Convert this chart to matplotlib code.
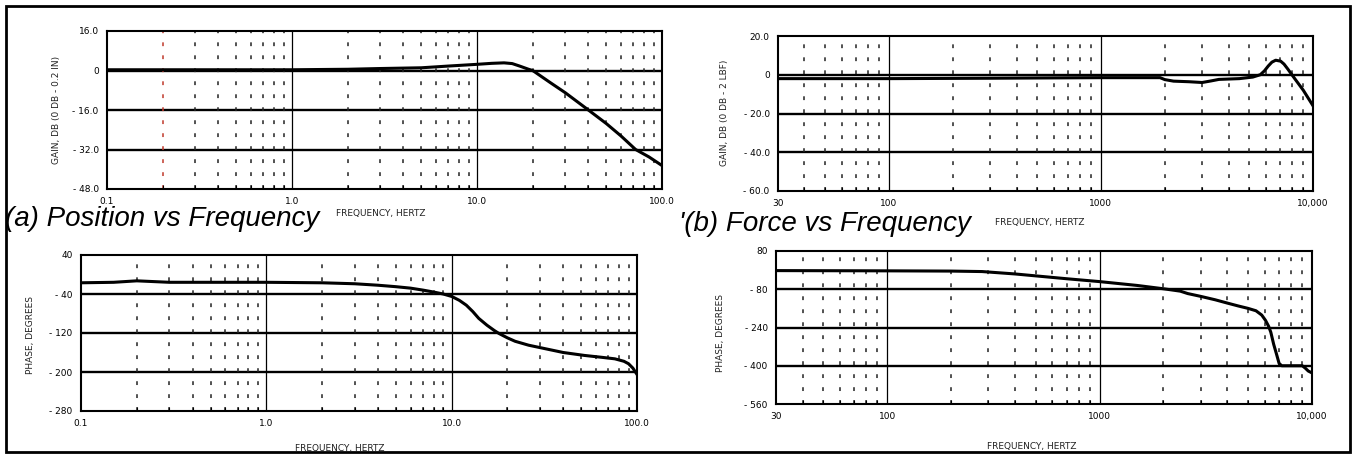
import numpy as np
import matplotlib
matplotlib.use('Agg')
import matplotlib.pyplot as plt
from matplotlib.patches import Rectangle

plt.rcParams['font.family'] = ['Liberation Sans', 'DejaVu Sans']

W, H = 1356, 457

# (a) position: gain and phase
pos_gain_freq = [0.1, 0.5, 1, 2, 3, 5, 7, 10, 12, 14, 15.5, 17, 19, 20, 25, 30, 40, 50, 60,
                 72, 85, 100]
pos_gain_db = [0.3, 0.3, 0.3, 0.5, 0.8, 1.1, 1.8, 2.5, 2.9, 3.1, 2.8, 1.8, 0.5, 0.0, -5.0,
               -9.0, -16.0, -21.5, -26.5, -32.0, -35.0, -38.5]
pos_phase_freq = [0.1, 0.15, 0.2, 0.3, 0.5, 1, 2, 3, 4, 5, 6, 7, 8, 9, 10, 11, 12, 13, 14,
                  15.5, 17, 18, 20, 22, 26, 30, 40, 52, 65, 76, 85, 90, 95, 100]
pos_phase_deg = [-17, -16, -13, -16, -16, -16, -17, -19, -22, -25, -28, -32, -36, -40, -45,
                 -53, -63, -76, -90, -104, -115, -121, -130, -137, -145, -150, -160, -166,
                 -170, -173, -178, -183, -192, -205]

# (b) force: gain and phase
force_gain_freq = [30, 100, 300, 1000, 1900, 2000, 2200, 2600, 3000, 3300, 3600, 4500, 5200,
                   5640, 5900, 6150, 6400, 6670, 7040, 7300, 7600, 8200, 9000, 10000]
force_gain_db = [-2.0, -2.0, -1.8, -1.5, -1.5, -2.5, -3.3, -3.6, -4.0, -3.2, -2.4, -2.0, -1.2,
                 0.0, 2.0, 4.5, 6.5, 7.5, 7.0, 5.5, 3.0, -2.0, -8.0, -16.0]
force_phase_freq = [30, 100, 200, 280, 400, 500, 700, 1000, 1500, 2000, 2400, 2600, 3000,
                    3500, 4000, 4500, 5000, 5450, 5800, 6040, 6250, 6400, 6600, 6800, 7000,
                    7200, 9000, 9300, 9600, 10000]
force_phase_deg = [-2, -3, -4, -6, -16, -24, -36, -48, -64, -78, -88, -98, -110, -124, -138,
                   -150, -160, -170, -188, -210, -235, -260, -310, -350, -390, -400, -400,
                   -410, -422, -430]

pos_xticks = [0.1, 1, 10, 100]
pos_xlabels = ['0.1', '1.0', '10.0', '100.0']
force_xticks = [30, 100, 1000, 10000]
force_xlabels = ['30', '100', '1000', '10,000']

pos_gain_ticks = [16, 0, -16, -32, -48]
pos_gain_labels = ['16.0', '0', '- 16.0', '- 32.0', '- 48.0']
pos_phase_ticks = [40, -40, -120, -200, -280]
pos_phase_labels = ['40', '- 40', '- 120', '- 200', '- 280']
force_gain_ticks = [20, 0, -20, -40, -60]
force_gain_labels = ['20.0', '0', '- 20.0', '- 40.0', '- 60.0']
force_phase_ticks = [80, -80, -240, -400, -560]
force_phase_labels = ['80', '- 80', '- 240', '- 400', '- 560']

SMALL_FONT = 'DejaVu Sans'


def rect(x0, y0, x1, y1):
    return [x0 / W, 1 - y1 / H, (x1 - x0) / W, (y1 - y0) / H]


def pt(x, y):
    return x / W, 1 - y / H


def bode_axes(fig, box, xticks, xlabels, yticks, ylabels, red_minor=None):
    ax = fig.add_axes(rect(*box))
    ax.set_xscale('log')
    lo, hi = xticks[0], xticks[-1]
    ax.set_xlim(lo, hi)
    ax.set_ylim(yticks[-1], yticks[0])

    for y in yticks[1:-1]:
        ax.axhline(y, color='black', lw=1.7, zorder=1)
    for k in range(int(np.floor(np.log10(lo))), int(np.ceil(np.log10(hi)))):
        dec = 10.0 ** k
        if lo < dec < hi:
            ax.axvline(dec, color='black', lw=0.9, zorder=1)
        for m in range(2, 10):
            x = m * dec
            if lo < x < hi:
                c = '#c0392b' if red_minor is not None and np.isclose(x, red_minor) else '#222222'
                ax.axvline(x, color=c, lw=1.1, ls=(0, (2.5, 6)), zorder=1)

    ax.set_xticks(xticks, xlabels)
    ax.set_yticks(yticks, ylabels)
    ax.tick_params(axis='both', which='major', labelsize=6.5, length=0, pad=6)
    ax.tick_params(axis='x', which='minor', direction='in', length=3, width=0.8)
    ax.xaxis.set_minor_formatter(matplotlib.ticker.NullFormatter())
    for lab in ax.get_xticklabels() + ax.get_yticklabels():
        lab.set_family(SMALL_FONT)
    for s in ax.spines.values():
        s.set_linewidth(1.5)
    return ax


fig = plt.figure(figsize=(W / 100, H / 100), dpi=100)

ax1 = bode_axes(fig, (107, 31, 662, 189), pos_xticks, pos_xlabels,
                pos_gain_ticks, pos_gain_labels, red_minor=0.2)
ax1.plot(pos_gain_freq, pos_gain_db, color='black', lw=2.2, zorder=3)

ax2 = bode_axes(fig, (778, 36, 1313, 191), force_xticks, force_xlabels,
                force_gain_ticks, force_gain_labels)
ax2.plot(force_gain_freq, force_gain_db, color='black', lw=2.2, zorder=3)

ax3 = bode_axes(fig, (81, 255, 637, 411), pos_xticks, pos_xlabels,
                pos_phase_ticks, pos_phase_labels)
ax3.plot(pos_phase_freq, pos_phase_deg, color='black', lw=2.2, zorder=3)

ax4 = bode_axes(fig, (776, 251, 1312, 404), force_xticks, force_xlabels,
                force_phase_ticks, force_phase_labels)
ax4.plot(force_phase_freq, force_phase_deg, color='black', lw=2.2, zorder=3)

# axis titles
small = dict(fontsize=6.5, family=SMALL_FONT, color='#222222')
fig.text(*pt(56, 110), 'GAIN, DB (0 DB - 0.2 IN)', rotation=90, ha='center', va='center', **small)
fig.text(*pt(724, 113), 'GAIN, DB (0 DB - 2 LBF)', rotation=90, ha='center', va='center', **small)
fig.text(*pt(30, 335), 'PHASE, DEGREES', rotation=90, ha='center', va='center', **small)
fig.text(*pt(720, 333), 'PHASE, DEGREES', rotation=90, ha='center', va='center', **small)
fig.text(*pt(381, 213), 'FREQUENCY, HERTZ', ha='center', va='center', **small)
fig.text(*pt(1040, 222), 'FREQUENCY, HERTZ', ha='center', va='center', **small)
fig.text(*pt(340, 449), 'FREQUENCY, HERTZ', ha='center', va='center', **small)
fig.text(*pt(1032, 446), 'FREQUENCY, HERTZ', ha='center', va='center', **small)

# panel captions
fig.text(*pt(5, 219), '(a) Position vs Frequency', ha='left', va='center',
         fontsize=20, style='italic')
fig.text(*pt(679, 224), "'(b) Force vs Frequency", ha='left', va='center',
         fontsize=20, style='italic')

# outer frame
fig.patches.append(Rectangle(pt(6, 452), (1350 - 6) / W, (452 - 6) / H,
                             transform=fig.transFigure, fill=False, lw=2, color='black'))

fig.savefig('out.png', dpi=100)
